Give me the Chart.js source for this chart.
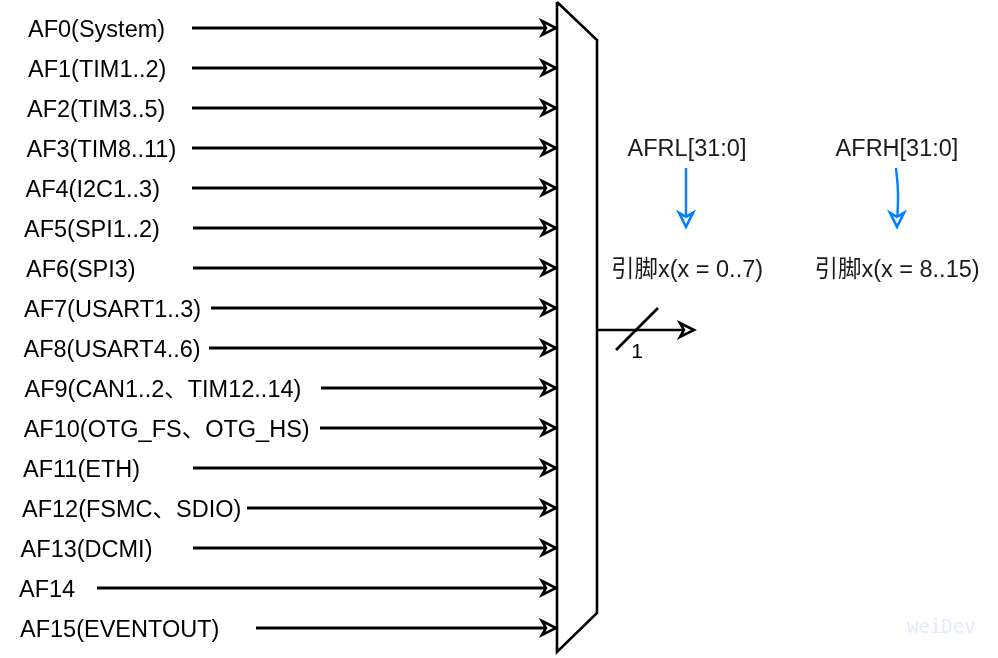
<!DOCTYPE html>
<html lang="zh-CN">
<head>
    <meta charset="UTF-8">
    <title>GPIO AF mux</title>
    <script src="https://cdn.jsdelivr.net/npm/chart.js"></script>
    <style>
        html, body { margin: 0; padding: 0; background: #fff; }
        #wrap { width: 998px; height: 658px; }
    </style>
</head>
<body>
    <div id="wrap"><canvas id="muxChart" width="998" height="658"></canvas></div>
    <script>
        // 复用功能名称 (AF0..AF15)
        const afLabels = [
            'AF0(System)', 'AF1(TIM1..2)', 'AF2(TIM3..5)', 'AF3(TIM8..11)',
            'AF4(I2C1..3)', 'AF5(SPI1..2)', 'AF6(SPI3)', 'AF7(USART1..3)',
            'AF8(USART4..6)', 'AF9(CAN1..2、TIM12..14)', 'AF10(OTG_FS、OTG_HS)', 'AF11(ETH)',
            'AF12(FSMC、SDIO)', 'AF13(DCMI)', 'AF14', 'AF15(EVENTOUT)'
        ];
        // 每条输入线的起点 (x)
        const lineStart = [192, 192, 192, 192, 192, 193, 193, 211, 209, 321, 320, 193, 247, 193, 97, 256];
        // 文字左边位置
        const labelLeft = [28, 28, 27, 26.5, 25.5, 24, 26, 24, 23.5, 24.5, 23.7, 23, 22, 20.6, 19, 20];
        // 寄存器与引脚
        const regNames = ['AFRL[31:0]', 'AFRH[31:0]'];
        const pinNames = ['引脚x(x = 0..7)', '引脚x(x = 8..15)'];
        const busWidth = '1';

        const MUX_L = 557, MUX_R = 597;
        const FONT = '23.5px "Liberation Sans", Arial, "Noto Sans CJK SC", sans-serif';
        const BLUE = '#007FFF';

        const rows = afLabels.map((_, i) => i);

        const datasets = rows.map(i => ({
            label: afLabels[i],
            data: [{x: lineStart[i], y: i}, {x: MUX_L - 1, y: i}],
            borderColor: '#000', borderWidth: 2.8, pointRadius: 0,
            arrow: '#000'
        }));
        // 梯形 (多路选择器)
        datasets.push({
            label: 'mux',
            data: [{x: MUX_L, y: -0.65}, {x: MUX_R, y: 0.3}, {x: MUX_R, y: 14.625}, {x: MUX_L, y: 15.6}, {x: MUX_L, y: -0.65}],
            borderColor: '#000', borderWidth: 2.6, pointRadius: 0, borderJoinStyle: 'miter'
        });
        // 输出总线
        datasets.push({
            label: 'out',
            data: [{x: MUX_R, y: 7.55}, {x: 694, y: 7.55}],
            borderColor: '#000', borderWidth: 2.6, pointRadius: 0, arrow: '#000', arrowDir: 'x'
        });
        datasets.push({
            label: 'slash',
            data: [{x: 616, y: 8.05}, {x: 658, y: 7.0}],
            borderColor: '#000', borderWidth: 2.6, pointRadius: 0
        });
        // 蓝色箭头
        datasets.push({
            label: 'afrl',
            data: [{x: 686, y: 3.5}, {x: 686, y: 4.97}],
            borderColor: BLUE, borderWidth: 2.4, pointRadius: 0, arrow: BLUE, arrowDir: 'y'
        });
        datasets.push({
            label: 'afrh',
            data: [{x: 896, y: 3.5}, {x: 898, y: 4.1}, {x: 897, y: 4.97}],
            borderColor: BLUE, borderWidth: 2.4, pointRadius: 0, tension: 0.4, arrow: BLUE, arrowDir: 'y'
        });

        const decor = {
            id: 'decor',
            afterDatasetsDraw(chart) {
                const ctx = chart.ctx;
                const sx = chart.scales.x, sy = chart.scales.y;
                const X = v => sx.getPixelForValue(v);
                const Y = v => sy.getPixelForValue(v);

                // 箭头
                chart.data.datasets.forEach((ds, di) => {
                    if (!ds.arrow) return;
                    const pts = chart.getDatasetMeta(di).data;
                    const p = pts[pts.length - 1];
                    ctx.save();
                    ctx.translate(p.x, p.y);
                    if (ds.arrowDir === 'y') ctx.rotate(Math.PI / 2);
                    ctx.beginPath();
                    ctx.moveTo(-14, -7);
                    ctx.lineTo(0, 0);
                    ctx.lineTo(-14, 7);
                    ctx.lineTo(-10, 0);
                    ctx.closePath();
                    ctx.fillStyle = '#fff';
                    ctx.fill();
                    ctx.lineWidth = 2.6;
                    ctx.lineJoin = 'miter';
                    ctx.strokeStyle = ds.arrow;
                    ctx.stroke();
                    ctx.restore();
                });

                ctx.save();
                ctx.fillStyle = '#000';
                ctx.font = FONT;
                ctx.textBaseline = 'alphabetic';
                ctx.textAlign = 'left';
                rows.forEach(i => {
                    ctx.fillText(afLabels[i], X(labelLeft[i]), Y(i) + 8.5);
                });

                ctx.textAlign = 'center';
                ctx.fillStyle = '#1a1a1a';
                ctx.fillText(regNames[0], X(687), Y(3.2));
                ctx.fillText(regNames[1], X(897), Y(3.2));
                ctx.fillText(pinNames[0], X(687), Y(6.225));
                ctx.fillText(pinNames[1], X(897), Y(6.225));

                ctx.fillStyle = '#000';
                ctx.font = '21px "Liberation Sans", Arial, sans-serif';
                ctx.fillText(busWidth, X(637), Y(8.25));

                // 水印
                ctx.textAlign = 'left';
                ctx.fillStyle = '#e3eafc';
                ctx.font = '19px "DejaVu Sans Mono", monospace';
                ctx.fillText('weiDev', X(907), Y(15.125));
                ctx.restore();
            }
        };

        new Chart(document.getElementById('muxChart').getContext('2d'), {
            type: 'line',
            data: { datasets: datasets },
            options: {
                responsive: false,
                animation: false,
                layout: { padding: 0 },
                plugins: { legend: { display: false }, tooltip: { enabled: false } },
                scales: {
                    x: { type: 'linear', min: 0, max: 998, display: false },
                    y: { type: 'linear', min: -0.7, max: 15.75, reverse: true, display: false }
                }
            },
            plugins: [decor]
        });
    </script>
</body>
</html>
